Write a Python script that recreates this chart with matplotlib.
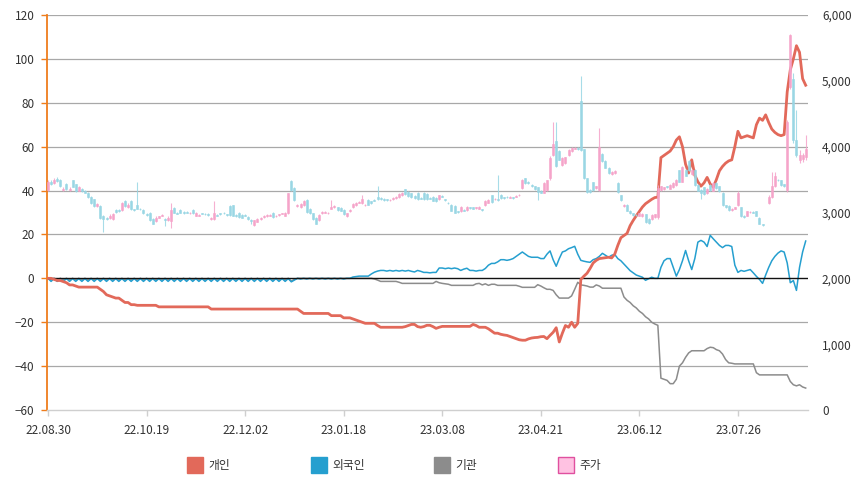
import numpy as np
import matplotlib
matplotlib.use('Agg')
import matplotlib.pyplot as plt
from matplotlib.patches import Rectangle
from matplotlib.ticker import FuncFormatter

plt.rcParams['font.family'] = ['Noto Sans CJK KR', 'DejaVu Sans']

nan = float('nan')

date_labels = ['22.08.30', '22.10.19', '22.12.02', '23.01.18', '23.03.08', '23.04.21', '23.06.12', '23.07.26']
date_label_idx = [0, 32, 64, 96, 128, 160, 192, 224]
legend_names = ['개인', '외국인', '기관', '주가']

individual = [
    0, 0, -0.5, -1, -1, -1.5, -2, -3, -3, -3.5,
    -4, -4, -4, -4, -4, -4, -4, -5, -6, -7.5,
    -8, -8.5, -9, -9, -10, -11, -11, -12, -12, -12.3,
    -12.3, -12.3, -12.3, -12.3, -12.3, -12.3, -13, -13, -13, -13,
    -13, -13, -13, -13, -13, -13, -13, -13, -13, -13,
    -13, -13, -13, -14, -14, -14, -14, -14, -14, -14,
    -14, -14, -14, -14, -14, -14, -14, -14, -14, -14,
    -14, -14, -14, -14, -14, -14, -14, -14, -14, -14,
    -14, -14, -15, -16, -16, -16, -16, -16, -16, -16,
    -16, -16, -17, -17, -17, -17, -18, -18, -18, -18.5,
    -19, -19.5, -20, -20.5, -20.5, -20.5, -20.5, -21.5, -22.3, -22.3,
    -22.3, -22.3, -22.3, -22.3, -22.3, -22.3, -22, -21.5, -21, -21,
    -22, -22.3, -22, -21.4, -21.4, -22, -22.8, -22.3, -21.9, -21.9,
    -21.9, -21.9, -21.9, -21.9, -21.9, -21.9, -21.9, -21.9, -21, -21.5,
    -22.3, -22.3, -22.3, -23, -24, -25, -25, -25.5, -25.8, -26,
    -26.5, -27, -27.5, -28, -28.2, -28.2, -27.6, -27.2, -27, -26.9,
    -26.6, -26.5, -27.5, -26, -24.6, -22.5, -29, -25, -21.5, -22.3,
    -20, -22.3, -20.5, -0.5, 1, 2.3, 4.5, 7, 8.2, 9,
    9.2, 9.4, 9.6, 9.3, 11, 15, 18.5, 19.5, 20.5, 24,
    26.4, 28.5, 30.5, 32.5, 34, 35, 36, 36.8, 37, 55,
    56, 57, 58, 60, 63, 64.5, 60, 52, 48, 54,
    47, 44, 42, 43.5, 46, 43, 41.5, 45, 49, 51,
    52.5, 53.5, 54, 60, 67, 64, 64.5, 65, 64.5, 64,
    70, 73, 72, 74.5, 71, 68, 66.5, 65.5, 65, 65.5,
    85, 95, 100, 106, 103, 91, 88,
]

foreign = [
    0, -1.4, -0.1, -1.4, -0.1, -1.4, -0.1, -1.4, -0.1, -1.4,
    -0.1, -1.4, -0.1, -1.4, -0.1, -1.4, -0.1, -1.4, -0.1, -1.4,
    -0.1, -1.4, -0.1, -1.4, -0.1, -1.4, -0.1, -1.4, -0.1, -1.4,
    -0.1, -1.4, -0.1, -1.4, -0.1, -1.4, -0.1, -1.4, -0.1, -1.4,
    -0.1, -1.4, -0.1, -1.4, -0.1, -1.4, -0.1, -1.4, -0.1, -1.4,
    -0.1, -1.4, -0.1, -1.4, -0.1, -1.4, -0.1, -1.4, -0.1, -1.4,
    -0.1, -1.4, -0.1, -1.4, -0.1, -1.4, -0.1, -1.4, -0.1, -1.4,
    -0.1, -1.4, -0.1, -1.4, -0.1, -1.4, -0.1, -1.4, -0.1, -1.6,
    -0.8, 0, -0.3, 0, -0.3, 0, -0.3, 0, -0.3, 0,
    -0.3, 0, -0.3, 0, -0.3, 0, -0.3, 0, 0, 0.6,
    0.8, 1, 1, 1, 1, 2, 2.8, 3.3, 3.6, 3.6,
    3.3, 3.6, 3.3, 3.6, 3.3, 3.6, 3.3, 3.6, 3.2, 2.9,
    3.6, 3.2, 2.7, 2.7, 2.5, 2.7, 2.7, 4.7, 4.7, 4.4,
    4.7, 4.4, 4.7, 4.4, 3.6, 4.2, 4.6, 3.6, 3.6, 3.3,
    3.6, 3.6, 4.5, 6, 6.8, 6.8, 7.5, 8.5, 8.5, 8.2,
    8.5, 9, 10, 11, 12, 11, 10, 9.6, 9.6, 9.6,
    9, 9, 11, 12.5, 8.5, 5.5, 9, 12, 12.5, 13.5,
    14, 14.6, 11, 8.2, 7.8, 7.5, 7.3, 8.5, 9, 10,
    11.4, 10.5, 9.6, 10.5, 10.9, 9, 8, 6.5, 5, 3.5,
    2.5, 1.5, 1, 0.5, -0.9, -0.2, 0.5, 0, 0, 5,
    8, 9, 9, 5, 1, 4, 8, 12.7, 8, 4,
    9, 16.5, 17.3, 16.5, 14.5, 19.6, 18, 16.5, 15, 14,
    15, 15, 14.5, 6, 2.7, 3.6, 3.2, 3.6, 4, 2.5,
    0.9, -0.5, -2.3, 1.5, 5, 8, 10, 11.5, 12.5, 12,
    7, -2, -1, -5.5, 5, 12, 17,
]

institution = [
    0, -0.6, 0, -0.6, 0, -0.6, 0, -0.6, 0, -0.6,
    0, -0.6, 0, -0.6, 0, -0.6, 0, -0.6, 0, -0.6,
    0, -0.6, 0, -0.6, 0, -0.6, 0, -0.6, 0, -0.6,
    0, -0.6, 0, -0.6, 0, -0.6, 0, -0.6, 0, -0.6,
    0, -0.6, 0, -0.6, 0, -0.6, 0, -0.6, 0, -0.6,
    0, -0.6, 0, -0.6, 0, -0.6, 0, -0.6, 0, -0.6,
    0, -0.6, 0, -0.6, 0, -0.6, 0, -0.6, 0, -0.6,
    0, -0.6, 0, -0.6, 0, -0.6, 0, -0.6, 0, -1.2,
    -0.5, 0, 0, 0, 0, 0, 0, 0, 0, 0,
    0, 0, 0, 0, 0, 0, 0, 0, 0, 0,
    0, 0, 0, 0, 0, 0, -0.3, -0.8, -1.4, -1.4,
    -1.4, -1.4, -1.4, -1.4, -1.8, -2.3, -2.3, -2.3, -2.3, -2.3,
    -2.3, -2.3, -2.3, -2.3, -2.3, -2.3, -1.4, -2, -2.3, -2.5,
    -2.7, -3.2, -3.2, -3.2, -3.2, -3.2, -3.2, -3.2, -3.2, -2.5,
    -2.3, -3, -2.5, -3.2, -2.7, -2.7, -3.2, -3.2, -3.2, -3.2,
    -3.2, -3.2, -3.2, -3.6, -4.1, -4.1, -4.1, -4.1, -4.1, -2.9,
    -3.5, -4.3, -5, -5, -5.5, -7.5, -9, -9, -9, -9,
    -8, -5, -1.8, -3, -3.2, -3.5, -4, -4, -3, -3.5,
    -4.5, -4.5, -4.5, -4.5, -4.5, -4.5, -4.5, -8.5, -10, -11,
    -12.5, -13.5, -15, -16, -17.5, -18.5, -20, -20.8, -21.4, -45.5,
    -46, -46.5, -48, -48, -46, -40, -38.5, -36, -34, -33,
    -33, -33, -33, -33, -32, -31.4, -31.6, -32.5, -33, -34.5,
    -37, -38.5, -38.7, -39, -39, -39, -39, -39, -39, -39,
    -43, -44, -44, -44, -44, -44, -44, -44, -44, -44,
    -44, -47, -48.5, -49, -48.5, -49.5, -50,
]

price_open = [
    3340, 3470, 3450, 3510, 3500, 3340, 3440, 3340, 3490, 3430,
    3330, 3360, 3320, 3300, 3240, 3200, 3100, 3100, 2950, 2920,
    2920, 2900, 3040, 3040, 3040, 3180, 3080, 3180, 3050, 3110,
    3060, 3040, 2980, 3000, 2900, 2870, 2920, 2950, 2900, 2880,
    2870, 3070, 3000, 3040, 3010, 3010, 2985, 3040, 2950, 2950,
    2990, 2980, 2980, 2900, 2900, 2960, 2990, 3000, 2970, 3100,
    3110, 2960, 3000, 2960, 2960, 2930, 2890, 2810, 2860, 2900,
    2930, 2940, 2950, 3000, 2940, 2960, 2980, 2950, 2990, 3480,
    3370, 3100, 3080, 3110, 3190, 3060, 2990, 2920, 2880, 2990,
    3000, 2990, 3060, 3080, 3080, 3070, 3040, 2940, 3020, 3080,
    3110, 3150, 3140, 3110, 3190, 3170, 3190, 3230, 3220, 3210,
    3200, 3185, 3200, 3220, 3230, 3260, 3350, 3310, 3290, 3250,
    3300, 3220, 3300, 3280, 3220, 3240, 3220, 3200, 3250, 3200,
    3150, 3120, 3100, 3020, 3020, 3040, 3040, 3080, 3080, 3070,
    3060, 3050, 3110, 3150, 3260, 3200, 3200, 3270, 3230, 3240,
    3225, 3230, 3240, 3260, 3370, 3520, 3470, 3420, 3400, 3380,
    3330, 3300, 3340, 3520, 3870, 4080, 3940, 3720, 3750, 3870,
    3930, 3970, 3980, 4700, 3960, 3520, 3340, 3460, 3370, 3340,
    3890, 3780, 3680, 3580, 3600, 3450, 3260, 3100, 3120, 3030,
    2990, 2965, 2950, 2940, 2970, 2900, 2900, 2930, 2930, 3340,
    3350, 3400, 3360, 3380, 3420, 3640, 3470, 3650, 3780, 3580,
    3650, 3420, 3340, 3380, 3290, 3420, 3330, 3450, 3400, 3300,
    3110, 3100, 3040, 3060, 3110, 3080, 2950, 2950, 3005, 3010,
    3020, 2920, 2820, nan, 3140, 3230, 3400, 3500, 3490, 3430,
    3340, 4910, 5030, 4100, 3800, 3820, 3850,
]

price_close = [
    3460, 3440, 3500, 3480, 3400, 3360, 3350, 3360, 3390, 3330,
    3380, 3330, 3300, 3230, 3150, 3100, 3130, 2920, 2900, 2900,
    2950, 2980, 3010, 3020, 3140, 3100, 3120, 3050, 3040, 3060,
    3050, 2990, 2960, 2880, 2830, 2920, 2940, 2960, 2880, 2920,
    3040, 3000, 2980, 3000, 2990, 3000, 2995, 2990, 3000, 2960,
    2980, 2970, 2960, 2920, 3000, 2950, 2970, 2990, 2960, 2960,
    2950, 2940, 2930, 2920, 2950, 2900, 2870, 2880, 2900, 2920,
    2950, 2960, 2960, 2930, 2950, 2970, 2990, 3000, 3290, 3340,
    3190, 3120, 3130, 3180, 3010, 2990, 2900, 2830, 2960, 3010,
    3010, 3000, 3090, 3100, 3040, 3030, 2970, 2990, 3040, 3130,
    3150, 3160, 3200, 3120, 3120, 3140, 3180, 3200, 3200, 3190,
    3190, 3195, 3220, 3240, 3280, 3300, 3280, 3250, 3230, 3220,
    3200, 3210, 3200, 3200, 3210, 3180, 3170, 3260, 3240, 3190,
    3140, 3030, 3000, 3010, 3090, 3030, 3090, 3070, 3060, 3080,
    3090, 3040, 3180, 3190, 3160, 3210, 3190, 3220, 3220, 3230,
    3235, 3220, 3250, 3270, 3500, 3450, 3450, 3400, 3350, 3310,
    3300, 3450, 3490, 3830, 4040, 3700, 3800, 3830, 3840, 3950,
    3980, 3980, 3960, 3950, 3520, 3310, 3310, 3340, 3400, 3990,
    3780, 3680, 3600, 3620, 3630, 3310, 3190, 3120, 3030, 2990,
    2960, 2955, 2990, 2980, 2850, 2840, 2960, 2970, 3370, 3400,
    3380, 3380, 3420, 3450, 3500, 3470, 3690, 3560, 3640, 3650,
    3420, 3330, 3300, 3280, 3360, 3340, 3450, 3370, 3320, 3110,
    3080, 3040, 3060, 3080, 3290, 2940, 2930, 3020, 3015, 3000,
    2950, 2830, 2810, nan, 3230, 3400, 3550, 3490, 3420, 3400,
    4380, 5700, 4100, 3880, 3870, 3880, 3970,
]

price_high = [
    3490, 3500, 3520, 3540, 3510, 3380, 3450, 3380, 3500, 3440,
    3400, 3370, 3340, 3310, 3250, 3210, 3150, 3110, 2960, 2930,
    2970, 3000, 3050, 3050, 3160, 3190, 3140, 3190, 3060, 3460,
    3070, 3050, 2990, 3010, 2910, 2940, 2950, 2970, 2910, 2940,
    3140, 3080, 3010, 3050, 3020, 3020, 3010, 3050, 3010, 2980,
    3000, 2990, 2990, 2930, 3170, 2970, 3000, 3010, 2980, 3110,
    3120, 2970, 3010, 2970, 2970, 2940, 2900, 2890, 2910, 2930,
    2960, 2970, 2970, 3010, 2960, 2980, 3000, 3010, 3300, 3500,
    3380, 3130, 3140, 3190, 3200, 3070, 3000, 2930, 2970, 3020,
    3020, 3010, 3190, 3110, 3090, 3080, 3050, 3000, 3050, 3140,
    3160, 3170, 3270, 3130, 3200, 3180, 3200, 3400, 3230, 3220,
    3210, 3200, 3230, 3250, 3290, 3310, 3360, 3320, 3300, 3260,
    3310, 3230, 3310, 3290, 3230, 3250, 3230, 3270, 3260, 3210,
    3160, 3130, 3110, 3030, 3100, 3050, 3100, 3090, 3090, 3090,
    3100, 3060, 3190, 3200, 3270, 3220, 3570, 3280, 3240, 3250,
    3250, 3240, 3260, 3280, 3510, 3530, 3480, 3430, 3410, 3390,
    3340, 3460, 3500, 3860, 4370, 4370, 3950, 3840, 3850, 3960,
    3990, 3990, 3990, 5080, 3970, 3530, 3350, 3470, 3410, 4280,
    3900, 3790, 3690, 3630, 3640, 3460, 3270, 3130, 3130, 3040,
    3000, 2980, 3000, 2990, 2980, 2910, 2970, 2980, 3420, 3410,
    3390, 3410, 3430, 3460, 3510, 3650, 3700, 3660, 3790, 3660,
    3660, 3430, 3350, 3390, 3370, 3430, 3460, 3460, 3410, 3310,
    3120, 3110, 3070, 3090, 3320, 3090, 2960, 3030, 3030, 3020,
    3030, 2930, 2830, nan, 3260, 3620, 3610, 3510, 3500, 3440,
    4400, 5710, 5120, 4550, 3950, 3900, 4180,
]

price_low = [
    3320, 3420, 3440, 3470, 3380, 3320, 3340, 3320, 3380, 3310,
    3320, 3310, 3290, 3220, 3130, 3080, 3080, 2900, 2700, 2880,
    2900, 2890, 3000, 3010, 3030, 3090, 3070, 3040, 3030, 3050,
    3040, 2980, 2950, 2870, 2820, 2860, 2910, 2940, 2800, 2870,
    2760, 2990, 2970, 2990, 2980, 2990, 2970, 2980, 2940, 2940,
    2970, 2960, 2950, 2890, 2890, 2940, 2960, 2980, 2950, 2950,
    2940, 2930, 2920, 2910, 2940, 2890, 2830, 2790, 2850, 2890,
    2920, 2930, 2940, 2920, 2930, 2950, 2970, 2940, 2980, 3330,
    3180, 3090, 3070, 3100, 3000, 2980, 2890, 2820, 2870, 2980,
    2990, 2980, 3050, 3070, 3030, 3020, 2960, 2930, 3010, 3070,
    3100, 3140, 3130, 3100, 3110, 3130, 3170, 3190, 3190, 3180,
    3180, 3180, 3190, 3210, 3220, 3250, 3270, 3240, 3220, 3210,
    3190, 3200, 3190, 3190, 3200, 3170, 3160, 3190, 3230, 3180,
    3130, 3020, 2990, 3000, 3010, 3020, 3030, 3060, 3050, 3060,
    3050, 3030, 3100, 3140, 3150, 3190, 3180, 3210, 3210, 3220,
    3220, 3210, 3230, 3250, 3360, 3440, 3440, 3390, 3340, 3190,
    3290, 3290, 3330, 3500, 3860, 3690, 3790, 3710, 3740, 3860,
    3920, 3960, 3950, 3940, 3510, 3300, 3300, 3330, 3360, 3330,
    3770, 3670, 3590, 3570, 3590, 3300, 3180, 3090, 3020, 2980,
    2950, 2940, 2940, 2930, 2840, 2830, 2890, 2920, 2900, 3330,
    3340, 3370, 3350, 3370, 3410, 3460, 3460, 3550, 3630, 3570,
    3410, 3320, 3200, 3270, 3280, 3330, 3320, 3360, 3310, 3100,
    3070, 3030, 3030, 3050, 3100, 2930, 2920, 2940, 3000, 2990,
    2940, 2820, 2800, nan, 3130, 3220, 3390, 3480, 3410, 3390,
    3310, 4880, 4050, 3850, 3750, 3760, 3800,
]

# ---------------------------------------------------------------
W, H = 862, 487
fig = plt.figure(figsize=(W / 100, H / 100), dpi=100)
L, R, T, B = 47, 808, 15, 410
ax = fig.add_axes([L / W, 1 - B / H, (R - L) / W, (B - T) / H])
ax2 = ax.twinx()

n = len(individual)
x = np.arange(n)

c_ind = '#e2695a'
c_for = '#259fcf'
c_ins = '#8c8c8c'
c_up = '#f5a3c9'
c_dn = '#98d6e4'
text_c = '#333333'

# grid
for v in [-40, -20, 20, 40, 60, 80, 100, 120]:
    ax.axhline(v, color='#a8a8a8', lw=0.9, zorder=0.5)

ax.plot(x, institution, color=c_ins, lw=1.1, zorder=2)
ax.plot(x, foreign, color=c_for, lw=1.1, zorder=2.1)
ax.axhline(0, color='#111111', lw=1.0, zorder=2.5)
ax.plot(x, individual, color=c_ind, lw=2.0, zorder=3, solid_joinstyle='round')

ax.set_xlim(-0.32, 246.75)
ax.set_ylim(-60, 120)
ax.set_yticks(range(-60, 121, 20))
ax.set_xticks(date_label_idx)
ax.set_xticklabels(date_labels)

for s in ['top', 'right']:
    ax.spines[s].set_visible(False)
ax.spines['left'].set_color('#ef7d1c')
ax.spines['left'].set_linewidth(1.3)
ax.spines['bottom'].set_color('#cfcfcf')
ax.spines['bottom'].set_linewidth(1.0)
ax.tick_params(axis='y', colors='#ef7d1c', labelcolor=text_c, length=4, width=1, pad=5, labelsize=8.5)
ax.tick_params(axis='x', colors='#cfcfcf', labelcolor=text_c, length=4, width=1, pad=6, labelsize=8.5)

# candlesticks on right axis
po = np.array(price_open, dtype=float)
pc = np.array(price_close, dtype=float)
ph = np.array(price_high, dtype=float)
pl = np.array(price_low, dtype=float)
ok = ~np.isnan(po)
up = pc >= po
cols = np.where(up, c_up, c_dn)
ax2.vlines(x[ok], pl[ok], ph[ok], colors=cols[ok], lw=0.8, alpha=0.85, zorder=2)
ax2.bar(x[ok], (pc - po)[ok], bottom=po[ok], width=0.65, color=cols[ok],
        edgecolor=cols[ok], linewidth=0.5, alpha=0.85, zorder=3)

ax2.set_ylim(0, 6000)
ax2.set_yticks(range(0, 6001, 1000))
ax2.yaxis.set_major_formatter(FuncFormatter(lambda v, p: f'{v:,.0f}'))
ax2.tick_params(axis='y', length=0, pad=10, labelcolor=text_c, labelsize=8.5)
for s in ['top', 'right', 'left', 'bottom']:
    ax2.spines[s].set_visible(False)

# legend
leg_x = [187, 311, 434, 558]
leg_fill = [c_ind, c_for, c_ins, '#ffc2e2']
leg_edge = [c_ind, c_for, c_ins, '#e0509f']
for lx, name, fc, ec in zip(leg_x, legend_names, leg_fill, leg_edge):
    fig.patches.append(Rectangle((lx / W, 1 - 473 / H), 16 / W, 16 / H,
                                 transform=fig.transFigure, facecolor=fc,
                                 edgecolor=ec, linewidth=1.0))
    fig.text((lx + 21) / W, 1 - 465 / H, name, fontsize=8.5, color=text_c,
             va='center', ha='left')

fig.savefig('out.png', dpi=100)
